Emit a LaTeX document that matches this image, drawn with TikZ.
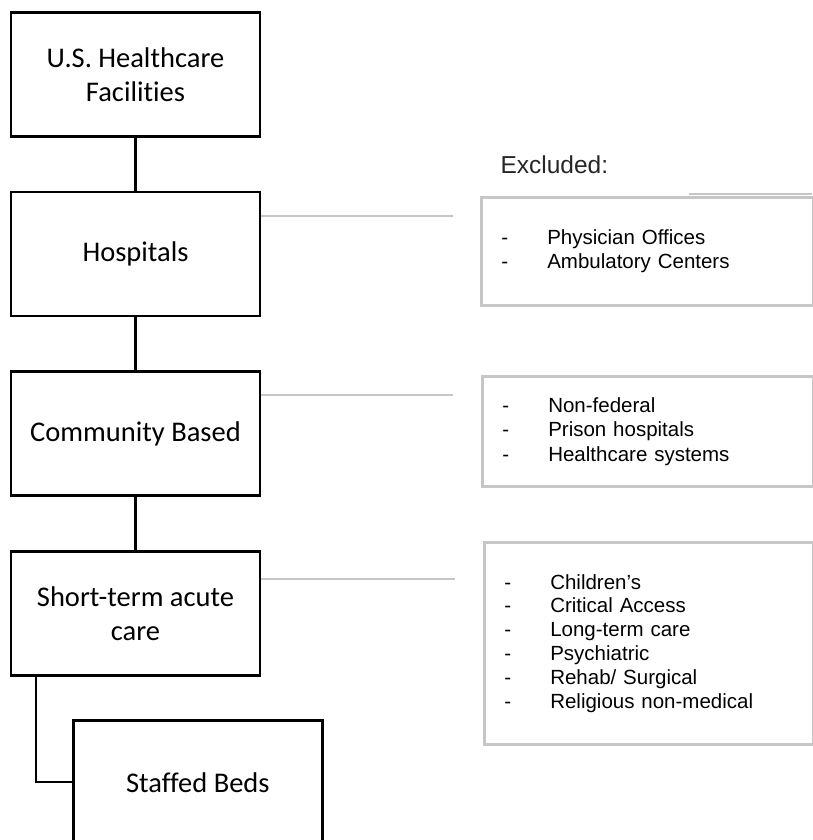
\documentclass[tikz,border=0pt]{standalone}
\usepackage{fontspec}
\setmainfont[Ligatures=NoCommon]{Carlito}
\newfontfamily\arialfont{Liberation Sans}
\usetikzlibrary{positioning}

\definecolor{exgray}{RGB}{198,198,198}

\newcommand*{\boxwd}{249pt}
\newcommand*{\boxht}{124pt}
\newcommand*{\listsep}{46pt}
\newcommand*{\dashitem}[1]{\makebox[\listsep][l]{-}#1}

\begin{document}
\begin{tikzpicture}
[
	x=1pt,y=-1pt,
	level/.style={draw,line width=2.6pt,minimum width=\boxwd,minimum height=\boxht,inner sep=0pt,align=center,font=\fontsize{28.5}{34}\selectfont},
	excl/.style={draw=exgray,line width=2.6pt,anchor=north west,inner xsep=20pt,inner ysep=0pt,align=left,font=\arialfont\fontsize{20.5}{24.5}\selectfont},
	link/.style={line width=2.6pt},
	side/.style={exgray,line width=2.4pt}
]

	\useasboundingbox (0,0) rectangle (813,840);

	% levels
	\node[level] (facil) at (135.5,74.5) {U.S. Healthcare\\Facilities};
	\node[level,below=53pt of facil] (hosp) {Hospitals};
	\node[level,below=53pt of hosp] (comm) {Community Based};
	\node[level,below=53pt of comm] (acute) {Short-term acute\\care};
	\node[level,anchor=north west] (beds) at (72,719) {Staffed Beds};

	\draw[link] (facil) -- (hosp);
	\draw[link] (hosp) -- (comm);
	\draw[link] (comm) -- (acute);
	\coordinate (bend) at (36,782);
	\draw[link] (acute.south -| bend) -- (bend) -- (beds.west |- bend);

	% exclusions
	\node[anchor=base west,font=\arialfont\fontsize{24.5}{28}\selectfont,text=black!85] (exlabel) at (497,173) {Excluded:};

	\node[excl,minimum width=332pt,minimum height=108pt,text width=292pt] (exhosp) at (480,196)
		{\dashitem{Physician Offices}\\\dashitem{Ambulatory Centers}};
	\node[excl,minimum width=331pt,minimum height=110pt,text width=291pt] (excomm) at (481,375)
		{\dashitem{Non-federal}\\\dashitem{Prison hospitals}\\\dashitem{Healthcare systems}};
	\node[excl,minimum width=329pt,minimum height=202pt,text width=289pt,font=\arialfont\fontsize{20.5}{23.8}\selectfont] (exacute) at (483,541)
		{\dashitem{Children’s}\\\dashitem{Critical Access}\\\dashitem{Long-term care}\\\dashitem{Psychiatric}\\\dashitem{Rehab/ Surgical}\\\dashitem{Religious non-medical}};
	\draw[side,line width=1.6pt] (689,194.2) -- (812,194.2);

	\coordinate (hospend) at (453,216);
	\coordinate (commend) at (453,395);
	\coordinate (acuteend) at (455,579);
	\draw[side] (hosp.east |- hospend) -- (hospend);
	\draw[side] (comm.east |- commend) -- (commend);
	\draw[side] (acute.east |- acuteend) -- (acuteend);

\end{tikzpicture}
\end{document}
